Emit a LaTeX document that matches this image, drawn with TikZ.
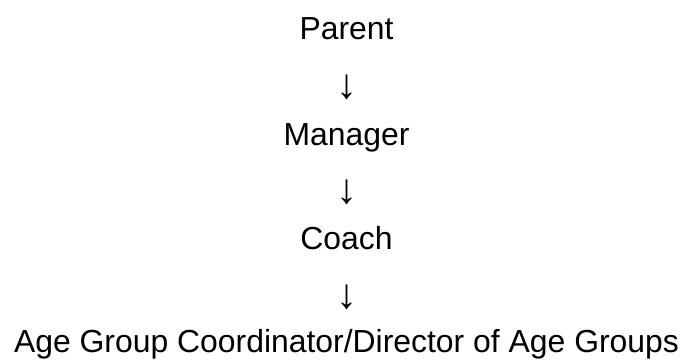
\documentclass[tikz,border=0pt]{standalone}
\usepackage{fontspec}
\setmainfont{Liberation Sans}
\begin{document}
\begin{tikzpicture}[x=1pt,y=-1pt,
  lbl/.style={anchor=base,inner sep=0pt,font=\fontsize{31.9}{36}\selectfont},
  arr/.style={anchor=base,inner sep=0pt,font=\fontsize{42}{48}\selectfont}]
\useasboundingbox (0,0) rectangle (683,360);
\node[lbl] (parent) at (346.5,39) {Parent};
\node[arr] (a1) at (346.5,98) {↓};
\node[lbl] (manager) at (346.5,145) {Manager};
\node[arr] (a2) at (346.5,203) {↓};
\node[lbl] (coach) at (346.5,249) {Coach};
\node[arr] (a3) at (346.5,308) {↓};
\node[lbl] (agc) at (346.5,352) {Age Group Coordinator/Director of Age Groups};
\end{tikzpicture}
\end{document}
